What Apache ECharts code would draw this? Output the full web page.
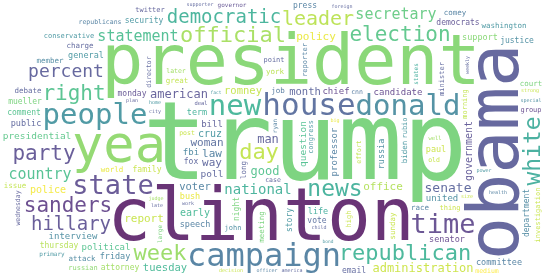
<!DOCTYPE html>
<html>
<head>
    <meta charset="utf-8">
    <title>word cloud</title>
    <script src="https://cdn.jsdelivr.net/npm/echarts@6/dist/echarts.min.js"></script>
    <style>
        html, body { margin: 0; padding: 0; background: #fff; }
        #chart { width: 545px; height: 277px; }
    </style>
</head>
<body>
<div id="chart"></div>
<script type="text/javascript">
// words and their counts (relative to "trump")
var words = ['trump','clinton','obama','president','yea','house','campaign','new','donald','people',
    'state','time','news','white','republican','official','week','day','election','sanders',
    'right','party','leader','hillary','democratic','percent','country','secretary','statement','national',
    'senate','administration','american','good','man','law','office','woman','report','policy',
    'way','month','voter','early','tuesday','romney','government','police','cruz','presidential',
    'poll','question','chief','professor','political','candidate','united','bill','interview','fbi',
    'paul','speech','russia','senator','friday','support','public','committee','life','term',
    'general','bush','family','attorney','fox','democrats','night','story','monday','comment',
    'mueller','security','justice','department','vote','email','press','thursday','great','world',
    'long','biden','debate','attack','charge','court','member','issue','job','meeting',
    'york','washington','race','comey','sunday','thing','point','group','reporter','investigation',
    'morning','rubio','minister','russian','twitter','john','conservative','high','congress','later',
    'republicans','effort','medium','director','states','case','post','old','cnn','primary',
    'wednesday','governor','large','ryan','well','deal','judge','health','city','america',
    'child','special','decision','strong','big','officer','work','supporter','foreign','home',
    'late','power','size','plan','weekly','fact','bond'];
var counts = [1080,730,720,700,520,310,320,290,290,290,
    270,270,230,230,220,220,220,220,210,210,
    210,210,200,190,190,180,150,150,150,140,
    130,120,120,120,120,110,110,110,110,110,
    110,105,105,100,105,105,100,100,100,95,
    95,95,90,90,90,90,90,90,90,90,
    85,85,85,85,85,85,85,85,85,85,
    85,85,80,80,80,80,80,80,80,80,
    80,80,80,80,80,80,80,80,75,75,
    75,75,75,75,75,75,75,75,75,75,
    75,75,75,75,75,70,70,70,70,70,
    70,70,70,70,70,70,70,70,70,65,
    65,65,65,65,60,65,65,65,65,60,
    65,60,60,60,55,55,50,50,50,50,
    50,50,50,50,50,50,50,50,50,50,
    50,50,50,50,50,45,45];
// words set upright (read bottom to top)
var verticalWords = ['obama','white','government','meeting','morning','professor','russia','question','story','rubio',
    'department','investigation','reporter','biden','wednesday','ryan','large','sunday','long','night',
    'weekly','minister','states','director','effort','congress','high'];
// viridis colour per word
var wordColors = {
    trump:'#5ec962', clinton:'#440154', obama:'#414487', president:'#6ece58', yea:'#7ad151',
    house:'#3b528b', campaign:'#31688e', 'new':'#22a884', donald:'#2a788e', people:'#26828e',
    state:'#46337e', time:'#472d7b', news:'#1fa187', white:'#1f9e89', republican:'#22a884',
    official:'#95d840', week:'#86d549', day:'#b5de2b', election:'#3dbc74', sanders:'#482475',
    right:'#35b779', party:'#453781', leader:'#addc30', hillary:'#453781', democratic:'#20a486',
    percent:'#414487', country:'#2fb47c', secretary:'#4ac16d', statement:'#2db27d', national:'#20a386',
    senate:'#3e4a89', administration:'#c2df23', american:'#433e85', good:'#35b779', man:'#414487',
    law:'#31688e', office:'#a2da37', woman:'#3b528b', report:'#bddf26', policy:'#e5e419',
    way:'#3e4989', month:'#3e4989', voter:'#306a8e', early:'#25ab82', tuesday:'#25ab82',
    romney:'#b8de29', government:'#443983', police:'#f1e51d', cruz:'#26828e', presidential:'#3fbc73',
    poll:'#3e4989', question:'#2fb47c', chief:'#482878', professor:'#31688e', political:'#35b779',
    candidate:'#482878', united:'#2a788e', bill:'#414487', interview:'#2a788e', fbi:'#2c728e',
    paul:'#c2df23', speech:'#31688e', russia:'#2a788e', senator:'#482475', friday:'#2c728e',
    support:'#6ece58', 'public':'#3e4989', committee:'#31688e', life:'#1f9e89', term:'#20a386',
    general:'#26828e', bush:'#e5e419', family:'#bddf26', attorney:'#8fd744', fox:'#3e4989',
    democrats:'#453781', night:'#5ec962', story:'#26828e', monday:'#46337e', comment:'#35b779',
    mueller:'#5ec962', security:'#26828e', justice:'#2a788e', department:'#2c728e', vote:'#3b528b',
    email:'#3e4989', press:'#31688e', thursday:'#a8db34', great:'#b5de2b', world:'#e5e419',
    'long':'#3e4989', biden:'#26828e', debate:'#3e4989', attack:'#2c728e', charge:'#3e4989',
    court:'#5ec962', member:'#2c728e', issue:'#b5de2b', job:'#35608d', meeting:'#5ec962',
    york:'#addc30', washington:'#26828e', race:'#31688e', comey:'#31688e', sunday:'#bddf26',
    thing:'#c2df23', point:'#3e4989', group:'#482878', reporter:'#31688e', investigation:'#bddf26',
    morning:'#b5de2b', rubio:'#26828e', minister:'#3e4989', russian:'#75d054', twitter:'#414487',
    john:'#2a788e', conservative:'#26828e', high:'#bddf26', congress:'#26828e', later:'#8fd744',
    republicans:'#31688e', effort:'#b5de2b', medium:'#fde725', director:'#3e4989', states:'#1f9e89',
    'case':'#3e4989', post:'#bddf26', old:'#bddf26', cnn:'#35608d', primary:'#26828e',
    wednesday:'#414487', governor:'#46337e', large:'#5ec962', ryan:'#31688e', well:'#8fd744',
    deal:'#414487', judge:'#8fd744', health:'#31688e', city:'#3e4989', america:'#3e4989',
    child:'#3e4989', special:'#2a788e', decision:'#bddf26', strong:'#bddf26', big:'#e5e419',
    officer:'#31688e', work:'#3e4989', supporter:'#3e4989', foreign:'#3e4989', home:'#26828e',
    late:'#3e4989', power:'#26828e', size:'#bddf26', plan:'#414487', weekly:'#3e4989',
    fact:'#26828e', bond:'#26828e'
};

var W = 545, H = 277;
var maxFont = 108, minFont = 4, margin = 2;
var pull = [0.56, 0.55];   // where the cloud is drawn towards, as a share of width / height
var FONT = '"DejaVu Sans Mono", monospace';

// --- simple word cloud layout: biggest first, each box put in the free spot nearest the pull point ---
var placed = [];
try {
    var cv = document.createElement('canvas');
    cv.width = W; cv.height = H;
    var ctx = cv.getContext('2d', { willReadFrequently: true });
    var integ = new Int32Array((W + 1) * (H + 1));

    var rebuild = function () {
        var d = ctx.getImageData(0, 0, W, H).data;
        for (var y = 0; y < H; y++) {
            var row = 0;
            for (var x = 0; x < W; x++) {
                row += d[(y * W + x) * 4 + 3] > 0 ? 1 : 0;
                integ[(y + 1) * (W + 1) + x + 1] = integ[y * (W + 1) + x + 1] + row;
            }
        }
    };
    var boxSum = function (x0, y0, x1, y1) {
        return integ[y1 * (W + 1) + x1] - integ[y0 * (W + 1) + x1] - integ[y1 * (W + 1) + x0] + integ[y0 * (W + 1) + x0];
    };

    var order = words.map(function (w, i) { return i; });
    order.sort(function (a, b) { return counts[b] - counts[a] || a - b; });
    var wMax = counts[order[0]];
    rebuild();

    order.forEach(function (i) {
        var word = words[i];
        var rot = verticalWords.indexOf(word) >= 0;
        for (var fs = maxFont * counts[i] / wMax; fs >= minFont; fs -= 1) {
            fs = +fs.toFixed(2);
            ctx.font = fs + 'px ' + FONT;
            ctx.textAlign = 'center';
            ctx.textBaseline = 'middle';
            var m = ctx.measureText(word);
            var L = Math.ceil(m.actualBoundingBoxLeft), R = Math.ceil(m.actualBoundingBoxRight);
            var A = Math.ceil(m.actualBoundingBoxAscent), D = Math.ceil(m.actualBoundingBoxDescent);
            var bx0, bx1, by0, by1;
            if (rot) { bx0 = -A; bx1 = D; by0 = -R; by1 = L; }
            else { bx0 = -L; bx1 = R; by0 = -A; by1 = D; }
            bx0 -= margin; by0 -= margin; bx1 += margin; by1 += margin;
            var best = null, bestD = Infinity;
            for (var ay = -by0; ay + by1 < H; ay++) {
                for (var ax = -bx0; ax + bx1 < W; ax++) {
                    if (boxSum(ax + bx0, ay + by0, ax + bx1 + 1, ay + by1 + 1) === 0) {
                        var dx = (ax + (bx0 + bx1) / 2) / W - pull[0];
                        var dy = (ay + (by0 + by1) / 2) / H - pull[1];
                        var dd = dx * dx + dy * dy;
                        if (dd < bestD) { bestD = dd; best = [ax, ay]; }
                    }
                }
            }
            if (best) {
                ctx.save();
                ctx.translate(best[0], best[1]);
                if (rot) ctx.rotate(-Math.PI / 2);
                ctx.fillStyle = '#000';
                ctx.fillText(word, 0, 0);
                ctx.restore();
                rebuild();
                placed.push({
                    name: word,
                    value: best,
                    label: { fontSize: fs, rotate: rot ? 90 : 0, color: wordColors[word] || '#21918c' }
                });
                break;
            }
        }
    });
} catch (e) {
    console.error(e);
}

var myChart = echarts.init(document.getElementById('chart'));
myChart.setOption({
    backgroundColor: '#fff',
    animation: false,
    grid: { left: 0, right: 0, top: 0, bottom: 0 },
    xAxis: { type: 'value', min: 0, max: W, show: false },
    yAxis: { type: 'value', min: 0, max: H, inverse: true, show: false },
    series: [{
        type: 'scatter',
        silent: true,
        symbolSize: 1,
        itemStyle: { color: 'rgba(0,0,0,0)' },
        label: {
            show: true,
            position: 'inside',
            formatter: '{b}',
            fontFamily: FONT,
            align: 'center',
            verticalAlign: 'middle'
        },
        labelLayout: { hideOverlap: false },
        emphasis: { disabled: true },
        data: placed
    }]
});
</script>
</body>
</html>
